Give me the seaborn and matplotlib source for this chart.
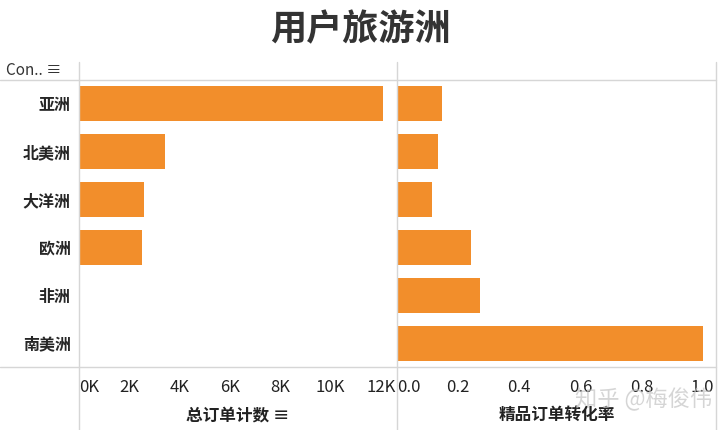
import matplotlib
matplotlib.use("Agg")
import matplotlib.pyplot as plt
import pandas as pd
import seaborn as sns
from matplotlib.lines import Line2D
from matplotlib.ticker import FixedLocator, FuncFormatter

continents = ["亚洲", "北美洲", "大洋洲", "欧洲", "非洲", "南美洲"]
total_orders = [12100, 3400, 2600, 2500, 0, 0]
conversion_rate = [0.148, 0.134, 0.113, 0.243, 0.27, 1.0]
order_ticks = [0, 2000, 4000, 6000, 8000, 10000, 12000]
rate_ticks = [0.0, 0.2, 0.4, 0.6, 0.8, 1.0]

sns.set_theme(style="white")
plt.rcParams["font.family"] = ["Noto Sans CJK SC", "DejaVu Sans"]

ORANGE = "#F28E2B"
LINE = "#d6d6d6"
W, H = 720, 430

df = pd.DataFrame({"洲": continents, "总订单计数": total_orders, "精品订单转化率": conversion_rate})

fig = plt.figure(figsize=(7.2, 4.3), dpi=100)
left_ax = fig.add_axes([79 / W, 1 - 367 / H, 318 / W, 287 / H])
right_ax = fig.add_axes([397 / W, 1 - 367 / H, 319 / W, 287 / H])

sns.barplot(data=df, y="洲", x="总订单计数", ax=left_ax, color=ORANGE, width=0.73,
            saturation=1, linewidth=0)
sns.barplot(data=df, y="洲", x="精品订单转化率", ax=right_ax, color=ORANGE, width=0.73,
            saturation=1, linewidth=0)

left_ax.set_xlim(0, 12640)
right_ax.set_xlim(0, 1.044)

left_ax.xaxis.set_major_locator(FixedLocator(order_ticks))
left_ax.xaxis.set_major_formatter(FuncFormatter(lambda v, p: f"{int(v / 1000)}K"))
right_ax.xaxis.set_major_locator(FixedLocator(rate_ticks))
right_ax.xaxis.set_major_formatter(FuncFormatter(lambda v, p: f"{v:.1f}"))

for ax, label in [(left_ax, "总订单计数 ≡"), (right_ax, "精品订单转化率")]:
    for side in ax.spines.values():
        side.set_visible(False)
    ax.tick_params(axis="x", length=0, pad=9, labelsize=12, colors="#222222")
    ax.set_xlabel(label, fontsize=12, fontweight="bold", labelpad=7, color="#222222")
    ax.xaxis.get_majorticklabels()[0].set_horizontalalignment("left")

left_ax.set_ylabel("")
left_ax.tick_params(axis="y", length=0, pad=6, labelsize=11.5)
for t in left_ax.get_yticklabels():
    t.set_fontweight("bold")
right_ax.set_ylabel("")
right_ax.set_yticklabels([])
right_ax.tick_params(axis="y", length=0)

# table frame lines
for y in (80, 367):
    fig.add_artist(Line2D([0, 716 / W], [1 - y / H] * 2, color=LINE, lw=1))
for x in (79, 397, 716):
    fig.add_artist(Line2D([x / W] * 2, [1 - 62 / H, 0], color=LINE, lw=1))

fig.text(0.5, 1 - 30 / H, "用户旅游洲", ha="center", va="center", fontsize=26,
         fontweight="bold", color="#333333")
fig.text(6 / W, 1 - 70 / H, "Con.. ≡", ha="left", va="center", fontsize=11, color="#333333")
fig.text(712 / W, 1 - 399 / H, "知乎 @梅俊伟", ha="right", va="center", fontsize=16,
         color="#c4c4c4", alpha=0.7)

fig.savefig("out.png", dpi=100)
